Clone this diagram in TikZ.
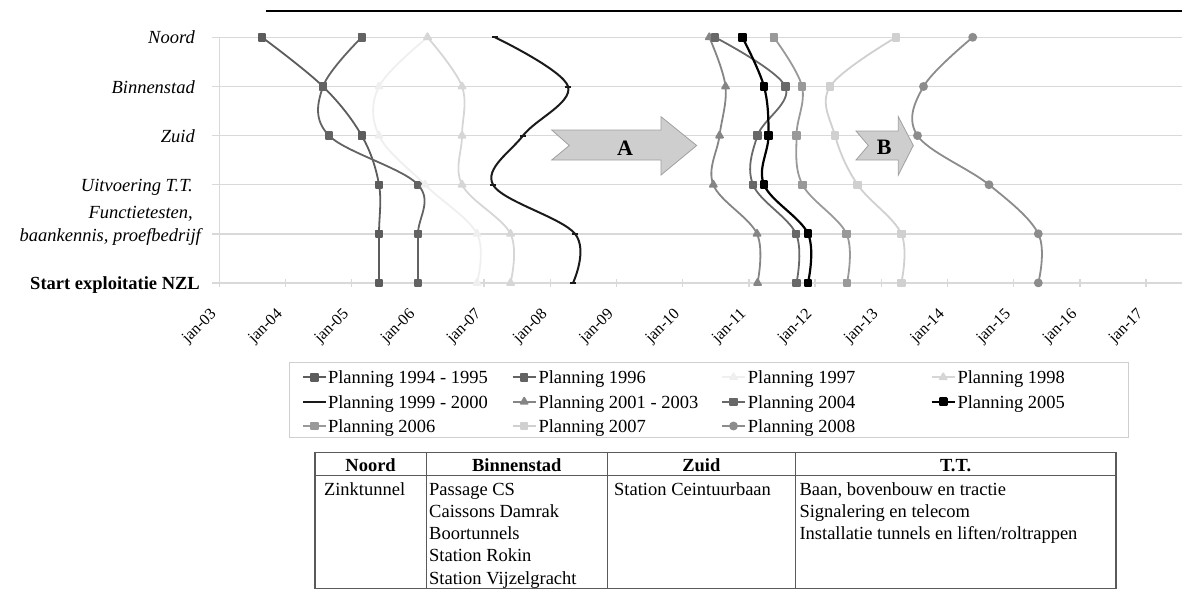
\documentclass[tikz,border=0pt]{standalone}
\usepackage{fontspec}
\setmainfont{Liberation Serif}
\usetikzlibrary{plotmarks}
\definecolor{gridc}{HTML}{D9D9D9}
\definecolor{cA}{HTML}{5C5C5C}
\definecolor{cB}{HTML}{636363}
\definecolor{cC}{HTML}{EFEFEF}
\definecolor{cD}{HTML}{D6D6D6}
\definecolor{cE}{HTML}{1A1A1A}
\definecolor{cF}{HTML}{858585}
\definecolor{cG}{HTML}{686868}
\definecolor{cH}{HTML}{000000}
\definecolor{cI}{HTML}{999999}
\definecolor{cJ}{HTML}{D0D0D0}
\definecolor{cK}{HTML}{8C8C8C}
\definecolor{arrfill}{HTML}{CECECE}
\definecolor{arrdraw}{HTML}{A0A0A0}
\definecolor{tabc}{HTML}{5A5A5A}
\definecolor{legc}{HTML}{CFCFCF}
\newcommand\legent[6]{%
  \draw[#1, mark=none] (#2,#4) -- ++(23,0);
  \path[#1] plot coordinates {(#2+11.5,#4)};
  \node[legtxt] (#6) at (#3,#4+6.5) {#5};}
\begin{document}
\begin{tikzpicture}[x=1pt,y=-1pt,
  grid/.style={draw=gridc,line width=1.4pt},
  ser/.style={line width=1.8pt, line join=round},
  sq/.style={mark=square*, mark size=3.3pt, mark options={solid,fill=#1,draw=#1}},
  tri/.style={mark=triangle*, mark size=4pt, mark options={solid,fill=#1,draw=#1}},
  circ/.style={mark=*, mark size=3.5pt, mark options={solid,fill=#1,draw=#1}},
  sA/.style={ser, draw=cA, sq=cA},
  sB/.style={ser, draw=cB, sq=cB},
  sC/.style={ser, draw=cC, tri=cC},
  sD/.style={ser, draw=cD, tri=cD},
  sE/.style={ser, draw=cE, line width=2pt, mark=-, mark size=3pt, mark options={solid,draw=cE}},
  sF/.style={ser, draw=cF, tri=cF},
  sG/.style={ser, draw=cG, sq=cG},
  sH/.style={ser, draw=cH, line width=2.2pt, sq=cH},
  sI/.style={ser, draw=cI, sq=cI},
  sJ/.style={ser, draw=cJ, sq=cJ},
  sK/.style={ser, draw=cK, circ=cK},
  lbl/.style={font=\fontsize{18.5}{22}\selectfont\itshape, anchor=base east, inner sep=0pt},
  lblb/.style={font=\fontsize{18.5}{22}\selectfont\bfseries, anchor=base east, inner sep=0pt},
  ticklbl/.style={font=\fontsize{16}{18}\selectfont, rotate=45, anchor=north east, inner sep=0pt},
  legtxt/.style={font=\fontsize{18.5}{22}\selectfont, anchor=base west, inner sep=0pt},
  tabtxt/.style={font=\fontsize{18.5}{22}\selectfont, anchor=base west, inner sep=0pt},
  tabhead/.style={font=\fontsize{18.5}{22}\selectfont\bfseries, anchor=base, inner sep=0pt},
  arrowshape/.style={fill=arrfill, draw=arrdraw, line width=0.8pt, line join=miter},
  arrlbl/.style={font=\fontsize{22}{26}\selectfont\bfseries, inner sep=0pt},
  tabline/.style={draw=tabc, line width=1pt},
]
\useasboundingbox (0,0) rectangle (1182,595);
% top rule
\draw[line width=2pt] (266,10.7) -- (1182,10.7);
% grid
\foreach \yy in {37.3,86.5,135.6,184.7,233.8,282.9}
  \draw[grid] (212,\yy) -- (1182,\yy);
\draw[grid] (219.3,37.3) -- (219.3,282.9);
\foreach \i in {0,...,14}
  \draw[grid] ({219.3+66.2*\i},279) -- ({219.3+66.2*\i},287);
\foreach \i/\t in {0/03,1/04,2/05,3/06,4/07,5/08,6/09,7/10,8/11,9/12,10/13,11/14,12/15,13/16,14/17}
  \node[ticklbl] (tk\i) at ({209.3+66.2*\i},307) {jan-\t};
% category labels
\node[lbl] (lN) at (195,43.8) {Noord};
\node[lbl] (lB) at (195,93) {Binnenstad};
\node[lbl] (lZ) at (195,142.1) {Zuid};
\node[lbl] (lU) at (193,191.2) {Uitvoering T.T.};
\node[lbl] (lF1) at (193,218.2) {Functietesten,};
\node[lbl] (lF2) at (201,241.5) {baankennis, proefbedrijf};
\node[lblb] (lS) at (200,289.4) {Start exploitatie NZL};
% arrows
\draw[arrowshape] (551.7,130) -- (661,130) -- (661,116.7) -- (696.7,145.5) -- (661,175) -- (661,160) -- (551.7,160) -- (569.3,145.5) -- cycle;
\node[arrlbl] (A) at (625,148) {A};
\draw[arrowshape] (856,131) -- (898.3,131) -- (898.3,116.7) -- (913.3,145.5) -- (898.3,175) -- (898.3,160) -- (856,160) -- (868.3,145.5) -- cycle;
\node[arrlbl] (B) at (884.2,147) {B};
% series
\draw[sA] plot[smooth,tension=0.6] coordinates {(262,37.3) (323,86.5) (361.7,135.6) (379,184.7) (379,233.8) (379,282.9)};
\draw[sB] plot[smooth,tension=0.6] coordinates {(361.7,37.3) (323,86.5) (329,135.6) (418,184.7) (418,233.8) (418,282.9)};
\draw[sC] plot[smooth,tension=0.6] coordinates {(427.5,37.3) (379,86.5) (379,135.6) (425,184.7) (477,233.8) (477,282.9)};
\draw[sD] plot[smooth,tension=0.6] coordinates {(427.5,37.3) (462,86.5) (462,135.6) (462,184.7) (510.5,233.8) (510.5,282.9)};
\draw[sE] plot[smooth,tension=0.6] coordinates {(495,37.3) (568,86.5) (523,135.6) (493,184.7) (575,233.8) (573,282.9)};
\draw[sF] plot[smooth,tension=0.6] coordinates {(709.3,37.3) (725.5,86.5) (719.5,135.6) (713.3,184.7) (757,233.8) (757.5,282.9)};
\draw[sG] plot[smooth,tension=0.6] coordinates {(715,37.3) (785.3,86.5) (757.5,135.6) (753,184.7) (796,233.8) (796.5,282.9)};
\draw[sH] plot[smooth,tension=0.6] coordinates {(742.3,37.3) (764,86.5) (768.5,135.6) (764,184.7) (808,233.8) (808,282.9)};
\draw[sI] plot[smooth,tension=0.6] coordinates {(773.8,37.3) (802,86.5) (796.5,135.6) (802.5,184.7) (846.5,233.8) (847,282.9)};
\draw[sJ] plot[smooth,tension=0.6] coordinates {(896,37.3) (830,86.5) (835,135.6) (857.6,184.7) (901.3,233.8) (901.3,282.9)};
\draw[sK] plot[smooth,tension=0.6] coordinates {(972.7,37.3) (923.5,86.5) (917.5,135.6) (989,184.7) (1038.3,233.8) (1038.3,282.9)};
% legend
\draw[draw=legc, line width=1.2pt] (289.6,362.7) rectangle (1128.3,437.3);
\legent{sA}{303}{327.8}{377.3}{Planning 1994 - 1995}{g1}
\legent{sB}{512.7}{538.3}{377.3}{Planning 1996}{g2}
\legent{sC}{722}{747.7}{377.3}{Planning 1997}{g3}
\legent{sD}{931.7}{957.3}{377.3}{Planning 1998}{g4}
\legent{sE}{303}{327.8}{401.7}{Planning 1999 - 2000}{g5}
\legent{sF}{512.7}{538.3}{401.7}{Planning 2001 - 2003}{g6}
\legent{sG}{722}{747.7}{401.7}{Planning 2004}{g7}
\legent{sH}{931.7}{957.3}{401.7}{Planning 2005}{g8}
\legent{sI}{303}{327.8}{426}{Planning 2006}{g9}
\legent{sJ}{512.7}{538.3}{426}{Planning 2007}{g10}
\legent{sK}{722}{747.7}{426}{Planning 2008}{g11}
% table
\draw[tabline, line width=1.3pt] (315,452.7) rectangle (1116,588.3);
\draw[tabline] (315,475.5) -- (1116,475.5);
\foreach \xx in {426.2,607.4,795.2}
  \draw[tabline] (\xx,452.7) -- (\xx,588.3);
\node[tabhead] (hN) at (370.6,471.5) {Noord};
\node[tabhead] (hB) at (516.8,471.5) {Binnenstad};
\node[tabhead] (hZ) at (701.3,471.5) {Zuid};
\node[tabhead] (hT) at (955.6,471.5) {T.T.};
\node[tabtxt] (n1) at (323.8,495) {Zinktunnel};
\node[tabtxt] (b1) at (429,495) {Passage CS};
\node[tabtxt] (b2) at (429,517.2) {Caissons Damrak};
\node[tabtxt] (b3) at (429,539.5) {Boortunnels};
\node[tabtxt] (b4) at (429,561.7) {Station Rokin};
\node[tabtxt] (b5) at (429,584) {Station Vijzelgracht};
\node[tabtxt] (z1) at (614,495) {Station Ceintuurbaan};
\node[tabtxt] (t1) at (799.3,495) {Baan, bovenbouw en tractie};
\node[tabtxt] (t2) at (799.3,517.2) {Signalering en telecom};
\node[tabtxt] (t3) at (799.3,539.5) {Installatie tunnels en liften/roltrappen};
\end{tikzpicture}
\end{document}
